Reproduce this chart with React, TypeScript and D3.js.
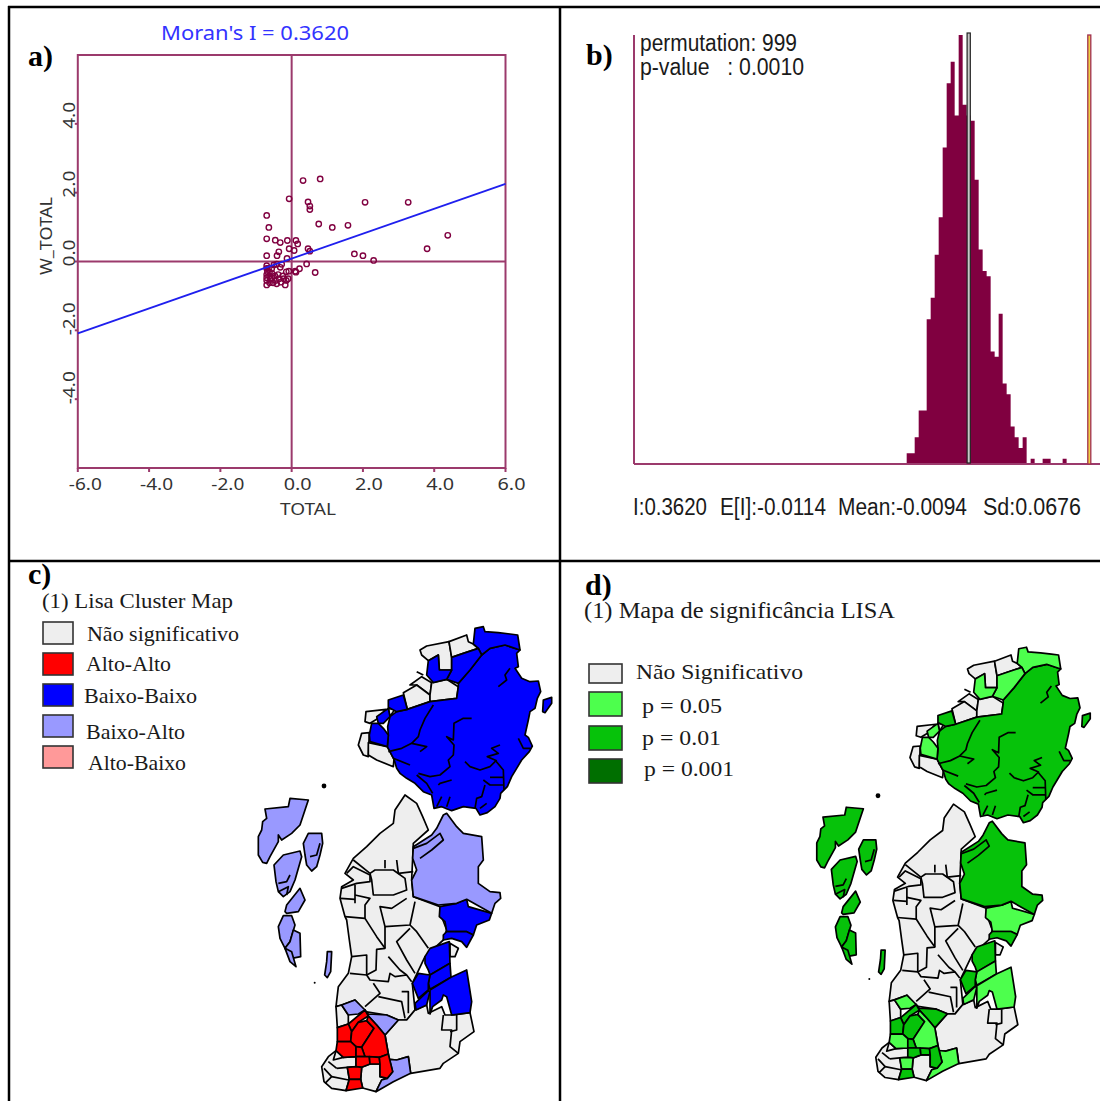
import React from 'react';
import * as d3 from 'd3';

type Pt = [number, number];

// a) Moran scatter
const axisTicks = [-6, -4, -2, 0, 2, 4, 6];
const lagTicks = [-4, -2, 0, 2, 4];
const moranSlope = 0.362;
const moranIntercept = 0.085;
const scatterTotal = [0.32, 0.8, -0.07, 0.46, 0.51, 0.51, 2.06, 3.27, -0.7, 0.76, -0.64, 1.14, 1.58, 4.38, -0.7, -0.46, -0.32, -0.12, 0.12, 0.17, 3.8, 0.46, 0.51, -0.07, 0.07, 1.76, 2.0, 2.3, -0.36, -0.7, -0.41, -0.13, 0.42, 0.66, 0.12, 0.22, -0.32, -0.56,
  -0.7, -0.7, -0.68, -0.7, -0.7, -0.7, -0.7, -0.65, -0.62, -0.62, -0.6, -0.62, -0.55, -0.55, -0.52, -0.47, -0.45, -0.42, -0.38, -0.35, -0.3, -0.25, -0.22, -0.18, -0.15, -0.1, -0.42, -0.28, -0.15, -0.5, -0.08, 0.1];
const scatterLag = [2.35, 2.4, 1.82, 1.73, 1.61, 1.51, 1.72, 1.72, 1.34, 1.09, 0.99, 0.99, 1.05, 0.76, 0.66, 0.62, 0.55, 0.61, 0.61, 0.51, 0.37, 0.37, 0.3, 0.37, 0.32, 0.22, 0.17, 0.03, 0.28, 0.17, 0.17, 0.09, -0.07, -0.32, -0.31, -0.21, -0.17, -0.21,
  -0.12, -0.2, -0.3, -0.38, -0.47, -0.55, -0.68, -0.2, -0.3, -0.42, -0.52, -0.62, -0.35, -0.47, -0.62, -0.42, -0.55, -0.65, -0.38, -0.5, -0.6, -0.42, -0.5, -0.68, -0.55, -0.5, -0.08, -0.08, -0.3, -0.1, -0.28, -0.28];

// b) permutation histogram
const histStart = -0.2034;
const histBin = 0.01238;
const histCounts = [2, 2, 5, 10, 10, 27, 31, 39, 46, 59, 71, 75, 65, 80, 67, 65, 64, 53, 40, 36, 35, 21, 20, 28, 15, 13, 7, 5, 3, 5, 0, 1, 0, 0, 1, 1, 0, 0, 0, 1, 0];
const observedI = 0.362;
const expectedI = -0.0114;

// c) / d) legends
const clusterNames = ['Não significativo', 'Alto-Alto', 'Baixo-Baixo', 'Baixo-Alto', 'Alto-Baixo'];
const clusterColors = ['#eeeeee', '#ff0000', '#0000ff', '#9999ff', '#ff9999'];
const sigNames = ['Não Significativo', 'p = 0.05', 'p = 0.01', 'p = 0.001'];
const sigColors = ['#eeeeee', '#4dff4d', '#06c20a', '#006f00'];

// map shapes, traced in map units
const shift = (dy: number, pts: Pt[]): Pt[] => pts.map(([x, y]) => [x, y + dy] as Pt);
const S = 720; // southern half
const I = 495; // western islands

const centreGray: Pt[] = [[465, 525], [500, 550], [518, 590], [535, 630], [490, 670], [485, 780], [490, 830], [570, 860], [575, 890], [590, 930], [580, 960], [525, 1010], [487, 1090], [495, 1170], [470, 1200], [445, 1200], [410, 1185], [345, 1175], [315, 1140], [275, 1155], [258, 1160], [265, 1100], [295, 1060], [305, 1010], [298, 960], [290, 900], [285, 890], [270, 835], [275, 800], [310, 780], [285, 760], [310, 715], [350, 680], [390, 640], [430, 610], [435, 570]];
const northMain: Pt[] = [[810, 90], [765, 75], [720, 85], [695, 105], [660, 150], [625, 190], [625, 200], [620, 235], [540, 245], [472, 268], [440, 275], [420, 290], [413, 320], [415, 345], [412, 380], [432, 418], [440, 445], [450, 460], [470, 475], [495, 490], [520, 515], [545, 525], [552, 565], [575, 560], [605, 572], [640, 560], [678, 565], [690, 585], [712, 578], [735, 560], [750, 535], [752, 520], [772, 500], [785, 470], [800, 445], [815, 420], [838, 395], [847, 378], [835, 352], [825, 345], [835, 300], [840, 275], [855, 265], [862, 235], [872, 215], [865, 183], [840, 185], [815, 175], [795, 145], [805, 140], [800, 100]];
const northTop: Pt[] = [[675, 25], [700, 20], [705, 35], [745, 38], [780, 42], [803, 45], [810, 90], [765, 75], [720, 85], [695, 105], [685, 85], [670, 72]];
const northSecond: Pt[] = [[605, 112], [640, 100], [685, 85], [695, 105], [660, 150], [625, 190], [590, 178], [605, 150]];
const northThird: Pt[] = [[535, 122], [565, 105], [568, 150], [605, 150], [590, 178], [550, 188], [530, 165]];
const coastA: Pt[] = [[510, 90], [530, 78], [597, 65], [605, 112], [605, 150], [568, 150], [565, 105], [535, 122], [515, 105]];
const coastB: Pt[] = [[597, 65], [650, 45], [655, 65], [670, 72], [685, 85], [640, 100], [605, 112]];
const coastC: Pt[] = [[480, 195], [515, 170], [545, 188], [540, 225], [500, 195]];
const coastD: Pt[] = [[460, 218], [500, 195], [540, 225], [540, 245], [472, 268]];
const coastE: Pt[] = [[545, 188], [590, 178], [625, 200], [620, 235], [540, 245], [540, 225]];
const coastF: Pt[] = [[415, 240], [460, 225], [472, 268], [440, 275], [415, 262]];
const westA: Pt[] = [[348, 275], [408, 268], [380, 298], [360, 310], [345, 305]];
const westB: Pt[] = [[380, 290], [415, 265], [420, 290], [400, 310], [385, 310]];
const westC: Pt[] = [[415, 265], [435, 268], [425, 282], [420, 290]];
const westD: Pt[] = [[365, 310], [385, 310], [400, 325], [415, 345], [412, 380], [360, 365], [358, 345]];
const westE: Pt[] = [[335, 340], [358, 338], [355, 410], [340, 405], [325, 375]];
const westF: Pt[] = [[355, 368], [412, 380], [432, 418], [430, 440], [380, 420], [355, 405]];
const eastIsle: Pt[] = [[880, 240], [905, 232], [905, 250], [885, 278], [878, 275]];
const centreEast: Pt[] = [[490, 680], [545, 645], [560, 625], [580, 585], [590, 580], [620, 620], [640, 640], [695, 650], [700, 720], [685, 740], [685, 790], [720, 815], [750, 818], [752, 835], [735, 850], [725, 880], [650, 838], [620, 850], [565, 855], [490, 830], [485, 780], [500, 750], [488, 715]];

const seA = shift(S, [[570, 140], [620, 130], [650, 118], [655, 140], [725, 160], [718, 180], [680, 195], [670, 225], [650, 215], [590, 215], [585, 185], [568, 170]]);
const seB = shift(S, [[580, 225], [590, 215], [650, 215], [670, 225], [650, 262], [635, 245], [605, 235], [580, 240]]);
const seC = shift(S, [[525, 290], [540, 265], [598, 245], [600, 310], [540, 345], [535, 330], [525, 310]]);
const seD = shift(S, [[540, 345], [600, 310], [603, 352], [540, 388], [535, 370]]);
const seE = shift(S, [[487, 370], [505, 340], [540, 345], [535, 370], [535, 390], [505, 415]]);
const seF = shift(S, [[495, 430], [535, 392], [540, 395], [530, 435], [498, 450]]);
const seG = shift(S, [[540, 390], [603, 352], [650, 330], [665, 425], [660, 458], [605, 465], [590, 410], [580, 405], [575, 420], [548, 440], [540, 462]]);
const sePocket = shift(S, [[600, 250], [625, 265], [615, 290], [600, 290]]);
const southEast = shift(S, [[405, 525], [445, 480], [470, 480], [495, 450], [530, 435], [535, 460], [575, 440], [585, 465], [610, 465], [660, 458], [672, 515], [630, 545], [625, 580], [580, 610], [570, 625], [482, 640], [475, 590], [440, 600], [418, 598], [415, 582]]);
const swTop = shift(S, [[275, 435], [315, 420], [345, 450], [325, 462], [295, 465]]);
const swMid = shift(S, [[345, 450], [355, 462], [410, 465], [445, 480], [405, 525], [380, 495], [355, 468]]);
const swSouth = shift(S, [[418, 598], [440, 600], [475, 590], [482, 640], [430, 665], [378, 695], [395, 660], [412, 655], [428, 635]]);
const redA = shift(S, [[295, 492], [345, 450], [355, 468], [325, 487], [305, 515]]);
const redB = shift(S, [[262, 503], [295, 492], [305, 515], [302, 545], [262, 545]]);
const redC = shift(S, [[305, 515], [325, 487], [350, 482], [372, 505], [335, 562], [318, 560], [302, 545]]);
const redD = shift(S, [[262, 545], [302, 545], [318, 560], [318, 590], [280, 592], [258, 572]]);
const redE = shift(S, [[372, 505], [350, 482], [355, 468], [380, 495], [405, 525], [415, 582], [388, 592], [345, 590], [335, 562]]);
const redF = shift(S, [[318, 560], [335, 562], [345, 590], [318, 590]]);
const redG = shift(S, [[318, 590], [358, 590], [360, 612], [335, 622], [318, 620]]);
const redH = shift(S, [[358, 590], [388, 592], [390, 612], [360, 612]]);
const redI = shift(S, [[388, 592], [415, 582], [428, 635], [412, 655], [390, 650], [390, 612]]);
const redJ = shift(S, [[292, 622], [318, 620], [335, 622], [332, 658], [298, 658]]);
const redK = shift(S, [[298, 658], [332, 658], [338, 684], [288, 692]]);
const swGrayA = shift(S, [[258, 440], [275, 435], [295, 465], [295, 492], [262, 503]]);
const swGrayB = shift(S, [[215, 620], [235, 590], [258, 572], [280, 592], [318, 590], [318, 620], [292, 622], [298, 658], [288, 692], [245, 685], [222, 665]]);
const swGrayC = shift(S, [[335, 622], [360, 612], [390, 612], [390, 650], [412, 655], [395, 660], [378, 695], [338, 684], [332, 658]]);

const isleA = shift(I, [[45, 72], [115, 65], [120, 40], [175, 45], [165, 75], [150, 120], [125, 145], [95, 165], [85, 150], [85, 170], [60, 215], [50, 235], [38, 232], [25, 210], [25, 155], [35, 135], [38, 110], [50, 100]]);
const isleB = shift(I, [[72, 240], [100, 210], [150, 198], [155, 215], [135, 285], [120, 320], [100, 335], [85, 320], [78, 290]]);
const isleC = shift(I, [[160, 175], [175, 145], [215, 145], [218, 175], [210, 210], [200, 245], [185, 258], [170, 240], [165, 210]]);
const isleD = shift(I, [[105, 380], [110, 360], [150, 310], [165, 345], [145, 380], [110, 385]]);
const isleE = shift(I, [[85, 425], [100, 392], [125, 392], [135, 420], [120, 470], [105, 490], [90, 460]]);
const isleF = shift(I, [[130, 435], [150, 445], [152, 515], [125, 520], [105, 490], [120, 470]]);
const isleG = shift(I, [[105, 490], [125, 500], [138, 545], [120, 530]]);
const isleH = shift(I, [[232, 500], [245, 500], [242, 560], [232, 578], [224, 570], [230, 530]]);

// [shape, cluster index, significance index]
const mapRegions: [Pt[], number, number][] = [
  [centreGray, 0, 0], [southEast, 0, 0], [sePocket, 0, 0], [swGrayA, 0, 0], [swGrayB, 0, 0], [swGrayC, 0, 0],
  [coastA, 0, 0], [coastB, 0, 0], [coastC, 0, 0], [coastD, 0, 0], [coastE, 0, 0], [westA, 0, 0], [westC, 0, 0], [westE, 0, 0], [westF, 0, 0],
  [northMain, 2, 2], [northTop, 2, 1], [northSecond, 2, 1], [northThird, 2, 1], [coastF, 2, 2], [westB, 2, 1], [westD, 2, 1], [eastIsle, 2, 2],
  [seA, 2, 1], [seB, 2, 2], [seC, 2, 2], [seD, 2, 1], [seE, 2, 2], [seF, 2, 1], [seG, 2, 1],
  [centreEast, 3, 2], [swTop, 3, 1], [swMid, 3, 2], [swSouth, 3, 1],
  [isleA, 3, 2], [isleB, 3, 2], [isleC, 3, 2], [isleD, 3, 2], [isleE, 3, 2], [isleF, 3, 2], [isleG, 3, 2], [isleH, 3, 2],
  [redA, 1, 2], [redB, 1, 2], [redC, 1, 2], [redD, 1, 1], [redE, 1, 1], [redF, 1, 2], [redG, 1, 2], [redH, 1, 2], [redI, 1, 2], [redJ, 1, 1], [redK, 1, 2],
];

// inner borders that stop inside a region
const riversNorth: Pt[][] = [
  [[550, 255], [525, 295], [510, 330], [505, 350], [485, 370], [455, 385], [415, 395]],
  [[485, 370], [530, 380], [510, 395]],
  [[665, 295], [640, 295], [612, 310], [610, 360], [590, 350], [612, 375], [610, 405], [595, 420], [600, 440], [570, 465], [540, 470], [505, 460]],
  [[430, 415], [480, 435]],
  [[750, 375], [725, 385], [745, 400], [712, 410], [735, 420], [760, 450], [762, 510]],
  [[645, 425], [660, 440], [690, 450], [720, 440], [740, 420]],
  [[500, 465], [530, 490], [548, 520]],
  [[720, 472], [760, 472]],
  [[700, 480], [720, 495], [760, 495]],
  [[705, 495], [695, 530], [680, 535], [675, 565]],
  [[605, 480], [570, 490], [565, 495]],
  [[780, 145], [765, 165], [770, 180], [745, 200]],
  [[805, 355], [820, 385], [840, 385]],
  [[600, 530], [590, 560]],
  [[575, 530], [560, 560]],
  [[710, 550], [690, 565]],
  [[500, 155], [520, 165]],
  [[490, 685], [530, 670], [570, 640], [580, 660], [545, 690], [510, 715]],
];
const bordersSouth: Pt[][] = [
  [[315, 75], [315, 130]],
  [[272, 115], [315, 118]],
  [[315, 105], [360, 115], [345, 135], [345, 175], [380, 230], [405, 265]],
  [[285, 170], [345, 175]],
  [[360, 40], [375, 30], [430, 30], [465, 55], [470, 90], [430, 105], [370, 105], [365, 60], [360, 40]],
  [[290, 40], [310, 20], [360, 45], [360, 65], [320, 70], [275, 85]],
  [[405, 0], [405, 25]],
  [[440, 0], [445, 40], [490, 35]],
  [[310, 0], [360, 40]],
  [[470, 115], [425, 145], [390, 140], [405, 200], [480, 195], [495, 125]],
  [[480, 195], [500, 215], [535, 265]],
  [[480, 205], [440, 245], [470, 300], [495, 340]],
  [[405, 200], [405, 265], [380, 268], [378, 330], [350, 345], [360, 360], [415, 365], [420, 340], [435, 350], [470, 345], [485, 365]],
  [[305, 290], [350, 285], [350, 345]],
  [[300, 340], [350, 345]],
  [[370, 370], [390, 400], [345, 440]],
  [[385, 410], [455, 425], [465, 475]],
  [[455, 395], [475, 395], [475, 460]],
  [[415, 290], [450, 330], [470, 345]],
  [[580, 465], [575, 510], [605, 510], [600, 560], [625, 580]],
  [[620, 465], [620, 510], [600, 515]],
  [[235, 605], [260, 625]],
  [[222, 625], [245, 650], [225, 670]],
  [[260, 625], [292, 622]],
  [[245, 650], [296, 660]],
  [[258, 572], [250, 600], [280, 592]],
];
const bordersIsles: Pt[][] = [
  [[85, 295], [110, 290], [120, 270]],
  [[85, 320], [115, 305], [110, 330]],
  [[180, 215], [200, 210], [210, 175]],
];
const mapLines = [...riversNorth, ...bordersSouth.map((l) => shift(S, l)), ...bordersIsles.map((l) => shift(I, l))];
const mapDots: Pt[] = [[222, 498], [194, 1088]];

const MAROON = '#800040';
const AXIS = '#9b3a6c';
const SERIF = '"Liberation Serif", serif';
const SANS = '"Liberation Sans", sans-serif';
const UI = '"Noto Sans", sans-serif';

// fitted text, so the widths follow the picture
const Fit = ({ x, y, w, size, font, fill = '#1a1a1a', weight, transform, children }: any) => (
  <text x={x} y={y} fontSize={size} fontFamily={font} fill={fill} fontWeight={weight} transform={transform}
    textLength={w} lengthAdjust="spacingAndGlyphs">{children}</text>
);

const MapPanel = ({ xRange, yRange, colorOf }: { xRange: Pt; yRange: Pt; colorOf: (r: [Pt[], number, number]) => string }) => {
  const mx = d3.scaleLinear().domain([0, 930]).range(xRange);
  const my = d3.scaleLinear().domain([0, 1440]).range(yRange);
  const line = d3.line<Pt>().x((d) => mx(d[0])).y((d) => my(d[1]));
  const closed = d3.line<Pt>().x((d) => mx(d[0])).y((d) => my(d[1])).curve(d3.curveLinearClosed);
  return (
    <g stroke="#000" strokeWidth={1.7} strokeLinejoin="round">
      {mapRegions.map((r, i) => <path key={i} d={closed(r[0]) as string} fill={colorOf(r)} />)}
      {mapLines.map((l, i) => <path key={i} d={line(l) as string} fill="none" />)}
      {mapDots.map((d, i) => <circle key={i} cx={mx(d[0])} cy={my(d[1])} r={i === 0 ? 2.4 : 1} fill="#000" stroke="none" />)}
    </g>
  );
};

export default function App() {
  // panel a
  const x = d3.scaleLinear().domain([-6, 6]).range([77.8, 505.5]);
  const y = d3.scaleLinear().domain([-6, 6]).range([468, 55]);
  const tickStr = (v: number) => v.toFixed(1);
  const moran = d3.line<number>().x((d) => x(d)).y((d) => y(moranSlope * d + moranIntercept));

  // panel b
  const hx = d3.scaleLinear().domain([expectedI, observedI]).range([968.7, 1089.3]);
  const hy = d3.scaleLinear().domain([0, 80]).range([464, 35]);
  const hist = d3.area<number>()
    .x((_, i) => hx(histStart + i * histBin))
    .y0(hy(0))
    .y1((d) => hy(d))
    .curve(d3.curveStepAfter);

  return (
    <svg width={1100} height={1101} style={{ position: 'absolute', left: 0, top: 0 }}>
      <rect width={1100} height={1101} fill="#fff" />

      {/* table rules */}
      <g stroke="#000" strokeWidth={2.5}>
        <line x1={8} y1={7} x2={1100} y2={7} />
        <line x1={9} y1={6} x2={9} y2={1101} />
        <line x1={560} y1={6} x2={560} y2={1101} />
        <line x1={9} y1={561} x2={1100} y2={561} />
      </g>

      <text x={28} y={66} fontFamily={SERIF} fontWeight="bold" fontSize={30}>a)</text>
      <text x={586} y={65} fontFamily={SERIF} fontWeight="bold" fontSize={30}>b)</text>
      <text x={28} y={584} fontFamily={SERIF} fontWeight="bold" fontSize={30}>c)</text>
      <text x={585} y={595} fontFamily={SERIF} fontWeight="bold" fontSize={30}>d)</text>

      {/* a) Moran scatter */}
      <Fit x={161} y={40} w={188} size={20} font={UI} fill="#3333ff">Moran's I = 0.3620</Fit>
      <g stroke={AXIS} strokeWidth={2} fill="none">
        <rect x={x(-6)} y={y(6)} width={x(6) - x(-6)} height={y(-6) - y(6)} />
        <line x1={x(0)} y1={y(6)} x2={x(0)} y2={y(-6)} />
        <line x1={x(-6)} y1={y(0)} x2={x(6)} y2={y(0)} />
        {axisTicks.map((t) => <line key={t} x1={x(t)} y1={y(-6)} x2={x(t)} y2={y(-6) + 4} />)}
        {lagTicks.map((t) => <line key={t} x1={x(-6) - 3} y1={y(t)} x2={x(-6)} y2={y(t)} />)}
      </g>
      {axisTicks.map((t) => (
        <Fit key={t} x={x(t) - (t < 0 ? 9 : 8)} y={490} w={t < 0 ? 33 : 28} size={16.5} font={UI} fill="#333">{tickStr(t)}</Fit>
      ))}
      <Fit x={280} y={515} w={56} size={16} font={UI} fill="#333">TOTAL</Fit>
      {lagTicks.map((t) => (
        <Fit key={t} x={0} y={0} w={t < 0 ? 33 : 27} size={16.5} font={UI} fill="#333"
          transform={`translate(75,${y(t) + 5}) rotate(-90)`}>{tickStr(t)}</Fit>
      ))}
      <Fit x={0} y={0} w={78} size={15.5} font={UI} fill="#333" transform="translate(52,275) rotate(-90)">W_TOTAL</Fit>
      <g fill="none" stroke={MAROON} strokeWidth={1.4}>
        {scatterTotal.map((v, i) => <circle key={i} cx={x(v)} cy={y(scatterLag[i])} r={2.7} />)}
      </g>
      <path d={moran([-6, 6]) as string} fill="none" stroke="#1f1fee" strokeWidth={1.8} />

      {/* b) permutation histogram */}
      <path d={hist(histCounts) as string} fill={MAROON} />
      <line x1={634} y1={hy(80)} x2={634} y2={hy(0)} stroke={AXIS} strokeWidth={2} />
      <line x1={634} y1={hy(0)} x2={1100} y2={hy(0)} stroke={AXIS} strokeWidth={2} />
      <rect x={hx(expectedI) - 1.6} y={33} width={3.2} height={430} fill="#c8c8c8" stroke="#222" strokeWidth={1.2} />
      <rect x={hx(observedI) - 1.5} y={hy(80)} width={3} height={hy(0) - hy(80)} fill="#f0d040" stroke="#a03050" strokeWidth={1.3} />
      <Fit x={640} y={51} w={157} size={23} font={SANS}>permutation: 999</Fit>
      <Fit x={640} y={75} w={164} size={23} font={SANS}>{'p-value\u00a0\u00a0 : 0.0010'}</Fit>
      <Fit x={633} y={515} w={74} size={23} font={SANS}>I:0.3620</Fit>
      <Fit x={720} y={515} w={106} size={23} font={SANS}>E[I]:-0.0114</Fit>
      <Fit x={838} y={515} w={129} size={23} font={SANS}>Mean:-0.0094</Fit>
      <Fit x={983} y={515} w={98} size={23} font={SANS}>Sd:0.0676</Fit>

      {/* c) cluster map */}
      <Fit x={42} y={608} w={191} size={21} font={SERIF}>(1) Lisa Cluster Map</Fit>
      {clusterNames.map((n, i) => {
        const tops = [622, 653, 684, 715, 746];
        const tx = [87, 86, 84, 86, 88];
        const ty = [641, 671, 703, 739, 770];
        const tw = [152, 85, 113, 99, 98];
        return (
          <g key={n}>
            <rect x={43} y={tops[i]} width={30} height={22} fill={clusterColors[i]} stroke="#333" strokeWidth={1.6} />
            <Fit x={tx[i]} y={ty[i]} w={tw[i]} size={21} font={SERIF}>{n}</Fit>
          </g>
        );
      })}
      <MapPanel xRange={[250, 560]} yRange={[620, 1100]} colorOf={(r) => clusterColors[r[1]]} />

      {/* d) significance map */}
      <Fit x={584} y={618} w={311} size={24} font={SERIF}>(1) Mapa de significância LISA</Fit>
      {sigNames.map((n, i) => {
        const tops = [664, 692, 726, 759];
        const hs = [19, 24, 24, 24];
        const tx = [636, 642, 642, 644];
        const ty = [679, 713, 745, 776];
        const tw = [167, 80, 79, 90];
        return (
          <g key={n}>
            <rect x={589} y={tops[i]} width={33} height={hs[i]} fill={sigColors[i]} stroke="#333" strokeWidth={1.6} />
            <Fit x={tx[i]} y={ty[i]} w={tw[i]} size={22} font={SERIF}>{n}</Fit>
          </g>
        );
      })}
      <MapPanel xRange={[809, 1098]} yRange={[641, 1088.4]} colorOf={(r) => sigColors[r[2]]} />
    </svg>
  );
}
